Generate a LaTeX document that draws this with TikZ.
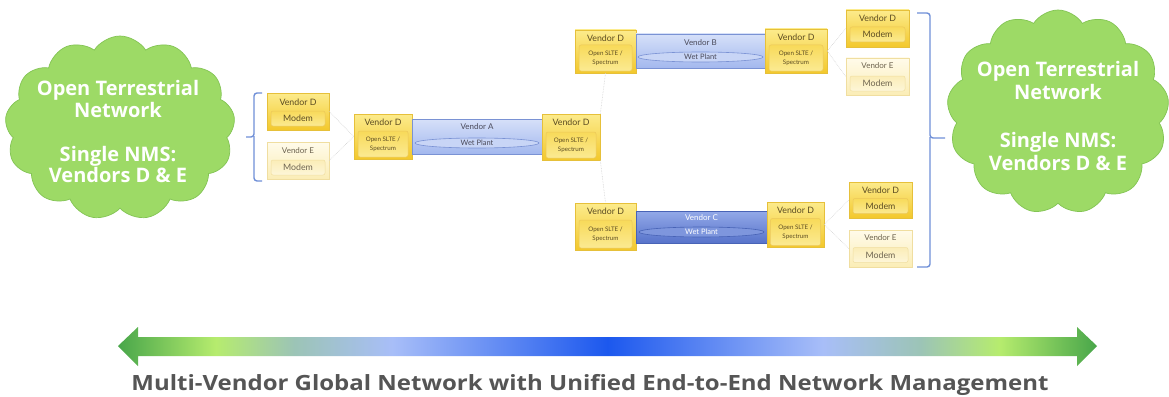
\documentclass[tikz,border=0pt]{standalone}
\usepackage{fontspec}
\setmainfont{Lato}
\newfontfamily\titlefont{Open Sans}
\newfontfamily\cloudfont{Open Sans}
\usetikzlibrary{shapes.symbols,shapes.geometric}
\definecolor{ytop}{HTML}{FCEB8C}
\definecolor{ybot}{HTML}{F3C82C}
\definecolor{ybord}{HTML}{E6C03A}
\definecolor{yintop}{HTML}{F8DA5A}
\definecolor{yinbot}{HTML}{FBEA92}
\definecolor{yinbord}{HTML}{EBC75A}
\definecolor{ptop}{HTML}{FFFBEA}
\definecolor{pbot}{HTML}{FBEDB6}
\definecolor{pbord}{HTML}{F0DEA0}
\definecolor{pintop}{HTML}{FBEDB8}
\definecolor{pinbot}{HTML}{FDF6D8}
\definecolor{ytext}{HTML}{5C4C22}
\definecolor{ptext}{HTML}{6E6450}
\definecolor{btop}{HTML}{D6E0F9}
\definecolor{bbot}{HTML}{A3B8EE}
\definecolor{bbord}{HTML}{7A92D4}
\definecolor{bell}{HTML}{C8D5F6}
\definecolor{btext}{HTML}{4A4A5A}
\definecolor{ctop}{HTML}{93A9E8}
\definecolor{cbot}{HTML}{5773CA}
\definecolor{cbord}{HTML}{4863B6}
\definecolor{cell}{HTML}{7E96DD}
\definecolor{cloudfill}{HTML}{9DDA66}
\definecolor{cloudbord}{HTML}{83C454}
\definecolor{brack}{HTML}{7090D8}
\definecolor{titlec}{HTML}{555555}
\definecolor{ag1}{HTML}{48A64A}
\definecolor{ag2}{HTML}{B6EC6E}
\definecolor{ag3}{HTML}{9CC4B6}
\definecolor{ag4}{HTML}{A8BEF8}
\definecolor{ag5}{HTML}{1C58EE}
\pgfdeclarehorizontalshading{arrowgrad}{100bp}{color(0bp)=(ag1); color(25bp)=(ag1); color(30bp)=(ag2); color(34bp)=(ag3); color(39bp)=(ag4); color(50bp)=(ag5); color(61bp)=(ag4); color(66bp)=(ag3); color(70bp)=(ag2); color(75bp)=(ag1); color(100bp)=(ag1)}
\tikzset{
  ybox/.style={draw=ybord, line width=0.6pt, top color=ytop, bottom color=ybot, inner sep=0pt},
  pbox/.style={draw=pbord, line width=0.6pt, top color=ptop, bottom color=pbot, inner sep=0pt},
  yin/.style={draw=yinbord, line width=0.5pt, rounded corners=2pt, top color=yintop, bottom color=yinbot, inner sep=0pt, text=ytext},
  pin/.style={draw=pbord, line width=0.5pt, rounded corners=2pt, top color=pintop, bottom color=pinbot, inner sep=0pt, text=ptext},
  vlab/.style={font=\fontsize{8.8}{9}\selectfont, text=ytext, inner sep=0pt},
  plab/.style={font=\fontsize{8}{9}\selectfont, text=ptext, inner sep=0pt},
  modem/.style={font=\fontsize{8.8}{9}\selectfont},
  slte/.style={font=\fontsize{6.2}{9}\selectfont, align=center},
  bbox/.style={draw=bbord, line width=0.6pt, top color=btop, bottom color=bbot, inner sep=0pt},
  cbox/.style={draw=cbord, line width=0.6pt, top color=ctop, bottom color=cbot, inner sep=0pt},
  bell/.style={ellipse, draw=bbord, line width=0.6pt, fill=bell, inner sep=0pt, font=\fontsize{7.5}{8}\selectfont, text=btext},
  cell/.style={ellipse, draw=cbord, line width=0.6pt, fill=cell, inner sep=0pt, font=\fontsize{7.5}{8}\selectfont, text=white},
  blab/.style={font=\fontsize{8}{9}\selectfont, text=btext, inner sep=0pt},
  cloudshape/.style={cloud, cloud puffs=13, cloud puff arc=115, aspect=1.2, draw=cloudbord, line width=0.7pt, fill=cloudfill},
  cloudtxt/.style={font=\cloudfont\bfseries\fontsize{20}{21}\selectfont, text=white, anchor=base, inner sep=0pt},
  brace/.style={draw=brack, line width=1.4pt, rounded corners=3pt},
  link/.style={draw=black!18, line width=0.6pt, densely dotted},
}
\begin{document}
\begin{tikzpicture}[x=1pt,y=-1pt]
\useasboundingbox (0,0) rectangle (1169,396);
\fill[white] (0,0) rectangle (1169,396);

% clouds
\node[cloudshape, minimum width=230, minimum height=184] (lcloud) at (120,128) {};
\node[cloudtxt] (lc1) at (118,95) {Open Terrestrial};
\node[cloudtxt] (lc2) at (118,117) {Network};
\node[cloudtxt] (lc3) at (118,161) {Single NMS:};
\node[cloudtxt] (lc4) at (118,182) {Vendors D \& E};

\node[cloudshape, minimum width=222, minimum height=204] (rcloud) at (1058,112) {};
\node[cloudtxt] (rc1) at (1058,77) {Open Terrestrial};
\node[cloudtxt] (rc2) at (1058,99) {Network};
\node[cloudtxt] (rc3) at (1058,147) {Single NMS:};
\node[cloudtxt] (rc4) at (1058,170) {Vendors D \& E};

% braces
\coordinate (lbt) at (262,93);
\coordinate (lbm) at (246,137);
\coordinate (lbb) at (262,181);
\draw[brace] (lbt) -- (254,93) -- (254,137) -- (lbm);
\draw[brace] (254,136) -- (254,181) -- (lbb);
\coordinate (rbt) at (917,13);
\coordinate (rbm) at (945,138);
\coordinate (rbb) at (917,267);
\draw[brace] (rbt) -- (930,13) -- (930,138) -- (rbm);
\draw[brace] (930,137) -- (930,267) -- (rbb);

% left modems
\node[ybox, minimum width=62, minimum height=37] (ldm) at (298,111.5) {};
\node[vlab] (ldmt) at (298,102) {Vendor D};
\node[yin, modem, minimum width=54, minimum height=15] (ldmm) at (298,118.5) {Modem};
\node[pbox, minimum width=62, minimum height=37] (lem) at (298,160.5) {};
\node[plab] (lemt) at (298,150.5) {Vendor E};
\node[pin, modem, minimum width=54, minimum height=15] (lemm) at (298,167.5) {Modem};

% left SLTE
\node[ybox, minimum width=58, minimum height=45] (ls) at (383,136.5) {};
\node[vlab] (lst) at (383,122) {Vendor D};
\node[yin, slte, minimum width=50, minimum height=26] (lsi) at (383,144) {Open SLTE /\\Spectrum};

% Vendor A
\node[bbox, minimum width=130, minimum height=35] (va) at (477,136.5) {};
\node[blab] (vat) at (477,127) {Vendor A};
\node[bell, minimum width=124, minimum height=10] (vae) at (477,143) {Wet Plant};

% right SLTE of A
\node[ybox, minimum width=58, minimum height=46] (rs) at (571,137) {};
\node[vlab] (rst) at (571,122) {Vendor D};
\node[yin, slte, minimum width=50, minimum height=26] (rsi) at (571,145) {Open SLTE /\\Spectrum};

% top branch
\node[ybox, minimum width=61, minimum height=43] (tl) at (605.5,51.5) {};
\node[vlab] (tlt) at (605.5,38) {Vendor D};
\node[yin, slte, minimum width=53, minimum height=26] (tli) at (605.5,58) {Open SLTE /\\Spectrum};
\node[bbox, minimum width=129, minimum height=34] (vb) at (700.5,51) {};
\node[blab] (vbt) at (700.5,43) {Vendor B};
\node[bell, minimum width=125, minimum height=10] (vbe) at (700.5,57) {Wet Plant};
\node[ybox, minimum width=62, minimum height=44] (tr) at (796,51) {};
\node[vlab] (trt) at (796,37) {Vendor D};
\node[yin, slte, minimum width=54, minimum height=26] (tri) at (796,58) {Open SLTE /\\Spectrum};

% bottom branch
\node[ybox, minimum width=61, minimum height=47] (bl) at (605.5,226.5) {};
\node[vlab] (blt) at (605.5,211) {Vendor D};
\node[yin, slte, minimum width=53, minimum height=28] (bli) at (605.5,234) {Open SLTE /\\Spectrum};
\node[cbox, minimum width=131, minimum height=32] (vc) at (701.5,227) {};
\node[blab, text=white] (vct) at (701.5,218) {Vendor C};
\node[cell, minimum width=125, minimum height=10] (vce) at (701.5,232) {Wet Plant};
\node[ybox, minimum width=57, minimum height=45] (br) at (795.5,224.5) {};
\node[vlab] (brt) at (795.5,210) {Vendor D};
\node[yin, slte, minimum width=50, minimum height=27] (bri) at (795.5,232) {Open SLTE /\\Spectrum};

% right modems
\node[ybox, minimum width=63, minimum height=37] (rtd) at (877.5,28.5) {};
\node[vlab] (rtdt) at (877.5,18) {Vendor D};
\node[yin, modem, minimum width=55, minimum height=15] (rtdm) at (877.5,34.5) {Modem};
\node[pbox, minimum width=63, minimum height=37] (rte) at (877.5,76.5) {};
\node[plab] (rtet) at (877.5,66) {Vendor E};
\node[pin, modem, minimum width=55, minimum height=15] (rtem) at (877.5,83.5) {Modem};
\node[ybox, minimum width=63, minimum height=36] (rbd) at (880.5,200) {};
\node[vlab] (rbdt) at (880.5,190) {Vendor D};
\node[yin, modem, minimum width=55, minimum height=15] (rbdm) at (880.5,206) {Modem};
\node[pbox, minimum width=63, minimum height=37] (rbe) at (880.5,248.5) {};
\node[plab] (rbet) at (880.5,238) {Vendor E};
\node[pin, modem, minimum width=55, minimum height=15] (rbem) at (880.5,255) {Modem};

% faint links
\draw[link] (ldm.east) -- (ls.west);
\draw[link] (lem.east) -- (ls.west);
\draw[link] (rs.north east) -- (tl.south);
\draw[link] (rs.south east) -- (bl.north);
\draw[link] (tr.east) -- (rtd.west);
\draw[link] (tr.east) -- (rte.west);
\draw[link] (br.east) -- (rbd.west);
\draw[link] (br.east) -- (rbe.west);

% gradient arrow
\shade[shading=arrowgrad] (118,346) -- (138,327) -- (138,337) -- (1077,337) -- (1077,327) -- (1097,346) -- (1077,366) -- (1077,356) -- (138,356) -- (138,366) -- cycle;

\node[font=\titlefont\bfseries\fontsize{21}{24}\selectfont, text=titlec, anchor=base, inner sep=0pt] (title) at (590,390) {\scalebox{1.142}[1]{Multi-Vendor Global Network with Unified End-to-End Network Management}};
\end{tikzpicture}
\end{document}
